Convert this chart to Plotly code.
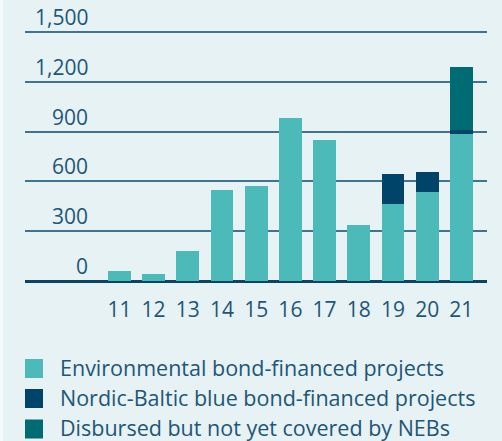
import plotly.graph_objects as go

years = [11, 12, 13, 14, 15, 16, 17, 18, 19, 20, 21]
year_labels = ["11", "12", "13", "14", "15", "16", "17", "18", "19", "20", "21"]
environmental = [62, 44, 182, 549, 573, 982, 850, 339, 465, 537, 886]
nordic_baltic_blue = [0, 0, 0, 0, 0, 0, 0, 0, 181, 121, 25]
disbursed_not_covered = [0, 0, 0, 0, 0, 0, 0, 0, 0, 0, 378]
y_ticks = [0, 300, 600, 900, 1200, 1500]
y_tick_labels = ["0", "300", "600", "900", "1,200", "1,500"]
series_names = ["Environmental bond-financed projects",
                "Nordic-Baltic blue bond-financed projects",
                "Disbursed but not yet covered by NEBs"]
colors = ["#4BBAB8", "#00446A", "#006B73"]

W, H = 502, 441
ML, MR, MT, MB = 25, 15, 27, 155
PW = W - ML - MR
PH = H - MT - MB
FONT = "Open Sans"
TXT = "#1F5677"
BG = "#E6F2F3"


def px_x(px):
    return (px - ML) / PW


def px_y(py):
    return (H - MB - py) / PH


fig = go.Figure()
for vals, name, col in zip([environmental, nordic_baltic_blue, disbursed_not_covered], series_names, colors):
    fig.add_trace(go.Bar(x=years, y=vals, name=name, marker=dict(color=col, line=dict(width=0)),
                         width=0.67, showlegend=False))

annotations = []
for v, t in zip(y_ticks, y_tick_labels):
    annotations.append(dict(x=px_x(89), xref="paper", y=v, yref="y", text=t, showarrow=False,
                            xanchor="right", yanchor="bottom", yshift=0, borderpad=0,
                            font=dict(family=FONT, size=21, color=TXT)))

shapes = [
    dict(type="rect", xref="paper", yref="paper", x0=px_x(-2), x1=px_x(3), y0=px_y(H + 5), y1=px_y(-5),
         fillcolor="#F6FAFA", line=dict(width=0), layer="below"),
]
row_centers = [367.5, 397.5, 427]
box_centers = [368.5, 398.5, 429]
for name, col, cy, by in zip(series_names, colors, row_centers, box_centers):
    shapes.append(dict(type="rect", xref="paper", yref="paper", x0=px_x(25), x1=px_x(43),
                       y0=px_y(by + 9.5), y1=px_y(by - 9.5), fillcolor=col, line=dict(width=0)))
    annotations.append(dict(x=px_x(58), xref="paper", y=px_y(cy), yref="paper", text=name,
                            showarrow=False, xanchor="left", yanchor="middle",
                            font=dict(family=FONT, size=21.5, color=TXT)))

fig.update_layout(
    width=W, height=H, barmode="stack", bargap=0,
    margin=dict(l=ML, r=MR, t=MT, b=MB, pad=0),
    paper_bgcolor=BG, plot_bgcolor=BG,
    showlegend=False,
    xaxis=dict(range=[8.24, 21.75], tickvals=years, ticktext=year_labels, showgrid=False,
               zeroline=False, showline=False, ticks="", ticklabelstandoff=9,
               tickfont=dict(family=FONT, size=21, color=TXT)),
    yaxis=dict(range=[-30, 1530], tickvals=y_ticks, showticklabels=False, showgrid=True,
               gridcolor="#3F7590", gridwidth=1.5, zeroline=True, zerolinecolor="#0B4563",
               zerolinewidth=3, showline=False, ticks=""),
    annotations=annotations, shapes=shapes,
)
fig.write_html("out.html", config={"displayModeBar": False},
               post_script="document.body.style.margin='0';document.body.style.overflow='hidden';")
